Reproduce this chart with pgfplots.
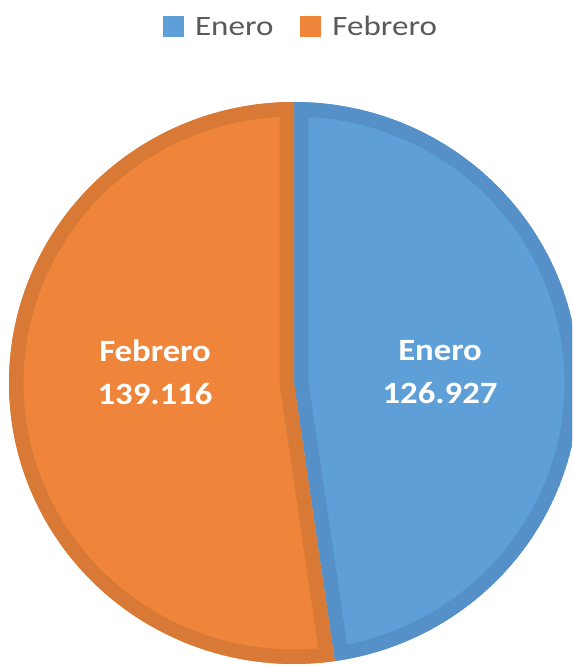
\documentclass[border=0pt]{standalone}
\usepackage{fontspec}
\setmainfont{Carlito}
\newfontfamily\legfont[FakeStretch=1.18]{Carlito}
\newfontfamily\labfont[FakeStretch=1.12]{Carlito}
\usepackage{pgfplots}
\usepackage{pgfplotstable}
\pgfplotsset{compat=1.18}
\definecolor{eneroF}{HTML}{5F9FD8}
\definecolor{eneroB}{HTML}{5590C8}
\definecolor{febF}{HTML}{EE853A}
\definecolor{febB}{HTML}{D87A35}
\definecolor{legtxt}{HTML}{595959}
\pgfplotstableread{
mes value
Enero 126.927
Febrero 139.116
}\datatable
\begin{document}
\begin{tikzpicture}
\pgfplotstablegetelem{0}{value}\of\datatable \let\vE\pgfplotsretval
\pgfplotstablegetelem{1}{value}\of\datatable \let\vF\pgfplotsretval
\pgfmathsetmacro{\fE}{\vE/(\vE+\vF)}
\pgfmathsetmacro{\aE}{90-360*\fE}
\pgfmathsetmacro{\aFp}{\aE+360}
\def\R{281}
\begin{axis}[name=A,
  x=1.01429pt, y=1pt,
  xmin=-289.86, xmax=274.08, ymin=-282, ymax=383,
  hide axis,
  legend columns=2,
  legend style={at={(axis cs:5.9,356)}, anchor=center, draw=none, fill=none,
    font=\legfont\fontsize{28}{34}\selectfont, text=legtxt,
    nodes={inner sep=0pt},
    /tikz/every even column/.append style={column sep=27pt}},
  legend image code/.code={\fill[#1] (0pt,-10.5pt) rectangle (21pt,10.5pt); \path (32pt,0pt);},
]
\addlegendimage{fill=eneroF, draw=none}
\addlegendentry{Enero}
\addlegendimage{fill=febF, draw=none}
\addlegendentry{Febrero}

\begin{scope}
\clip (axis cs:0,0) -- (axis cs:0,\R) arc[start angle=90, end angle=\aE, x radius=285pt, y radius=281pt] -- cycle;
\addplot[fill=eneroF, draw=eneroB, line width=29pt, domain=\aE:90, samples=150, variable=\t, forget plot]
  ({\R*cos(t)},{\R*sin(t)}) -- (axis cs:0,0) -- cycle;
\end{scope}
\begin{scope}
\clip (axis cs:0,0) -- (axis cs:0,\R) arc[start angle=90, end angle=\aFp, x radius=285pt, y radius=281pt] -- cycle;
\addplot[fill=febF, draw=febB, line width=29pt, domain=90:\aFp, samples=150, variable=\t, forget plot]
  ({\R*cos(t)},{\R*sin(t)}) -- (axis cs:0,0) -- cycle;
\end{scope}

\node[text=white, align=center, font=\labfont\bfseries\fontsize{31}{43}\selectfont] at (axis cs:144,11) {Enero\\126.927};
\node[text=white, align=center, font=\labfont\bfseries\fontsize{31}{43}\selectfont] at (axis cs:-137,11) {Febrero\\139.116};
\end{axis}
\pgfresetboundingbox
\path[use as bounding box] (A.south west) rectangle (A.north east);
\end{tikzpicture}
\end{document}
